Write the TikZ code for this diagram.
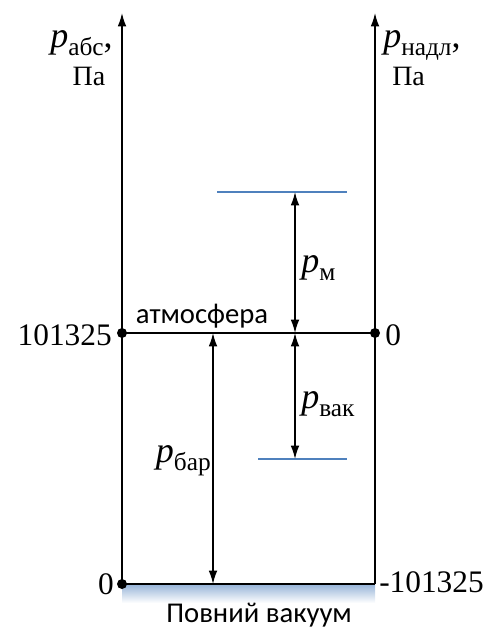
\documentclass[tikz,border=0pt]{standalone}
\usepackage{fontspec}
\setmainfont{Liberation Serif}
\newfontfamily\sansfont{Carlito}
\usetikzlibrary{arrows.meta}
\definecolor{levelblue}{RGB}{79,129,189}
\newcommand{\bigf}{\fontsize{27}{27}\selectfont}
\newcommand{\pvar}[1]{{\bigf\itshape p}\raisebox{-6pt}{\fontsize{19}{19}\selectfont #1}}

\begin{document}
\begin{tikzpicture}[x=0.75pt,y=-0.75pt]

\tikzstyle{axis} = [line width=1.1pt,-{Latex[length=10pt,width=6.5pt]}]
\tikzstyle{arrow} = [line width=1.1pt,{Latex[length=10pt,width=6.5pt]}-{Latex[length=10pt,width=6.5pt]}]
\tikzstyle{level} = [line width=1pt, draw=levelblue]
\tikzstyle{dot} = [circle, fill=black, inner sep=0pt, minimum size=7.5pt]
\tikzstyle{num} = [inner sep=0pt, font=\fontsize{23.5}{23.5}\selectfont]
\tikzstyle{word} = [inner sep=0pt, font=\fontsize{21}{21}\selectfont]
\tikzstyle{note} = [inner sep=0pt, font=\sansfont\fontsize{21.5}{21.5}\selectfont]

\useasboundingbox (0,0) rectangle (497,628);

% points on the two scales
\coordinate (absbot) at (122,584);
\coordinate (absatm) at (122,333);
\coordinate (abstop) at (122,13);
\coordinate (nadbot) at (375,584);
\coordinate (nadatm) at (375,333);
\coordinate (nadtop) at (375,13);

% pressure levels
\coordinate (highl) at (217,192);
\coordinate (highr) at (347,192);
\coordinate (lowl) at (258,459);
\coordinate (lowr) at (347,459);
\coordinate (mtop) at (295,192);
\coordinate (matm) at (295,333);
\coordinate (vbot) at (295,459);
\coordinate (batm) at (213,333);
\coordinate (bbot) at (213,584);

% full vacuum
\shade [top color=levelblue!60, bottom color=white] (122,584) rectangle (375,603);

\draw [axis] (absbot) -- (abstop);
\draw [axis] (nadbot) -- (nadtop);
\draw [line width=1.1pt] (absatm) -- (nadatm);
\draw [line width=1.1pt] (absbot) -- (nadbot);
\draw [level] (highl) -- (highr);
\draw [level] (lowl) -- (lowr);

\draw [arrow] (mtop) -- (matm);
\draw [arrow] (matm) -- (vbot);
\draw [arrow] (batm) -- (bbot);

\node (dotatm) [dot] at (absatm) {};
\node (dotnad) [dot] at (nadatm) {};
\node (dotbot) [dot] at (absbot) {};

\node (abslabel) [word, anchor=base east] at (113,47) {\pvar{абс}{\bigf,}};
\node (absunit) [word, anchor=base] at (89,85) {Па};
\node (nadlabel) [word, anchor=base west] at (383,47) {\pvar{надл}{\bigf,}};
\node (nadunit) [word, anchor=base west] at (392,85) {Па};

\node (atmabs) [num, anchor=base east] at (112,345) {101325};
\node (atmnad) [num, anchor=base west] at (385,345) {0};
\node (vacabs) [num, anchor=base east] at (114,594) {0};
\node (vacnad) [num, anchor=base west] at (379,592) {-101325};

\node (atmword) [note, anchor=base] at (202,323) {атмосфера};
\node (vacword) [note, anchor=base] at (259,622) {Повний вакуум};

\node (pm) [word, anchor=base west] at (301,272) {\pvar{м}};
\node (pvak) [word, anchor=base west] at (301,408) {\pvar{вак}};
\node (pbar) [word, anchor=base east] at (211,462) {\pvar{бар}};

\end{tikzpicture}
\end{document}
